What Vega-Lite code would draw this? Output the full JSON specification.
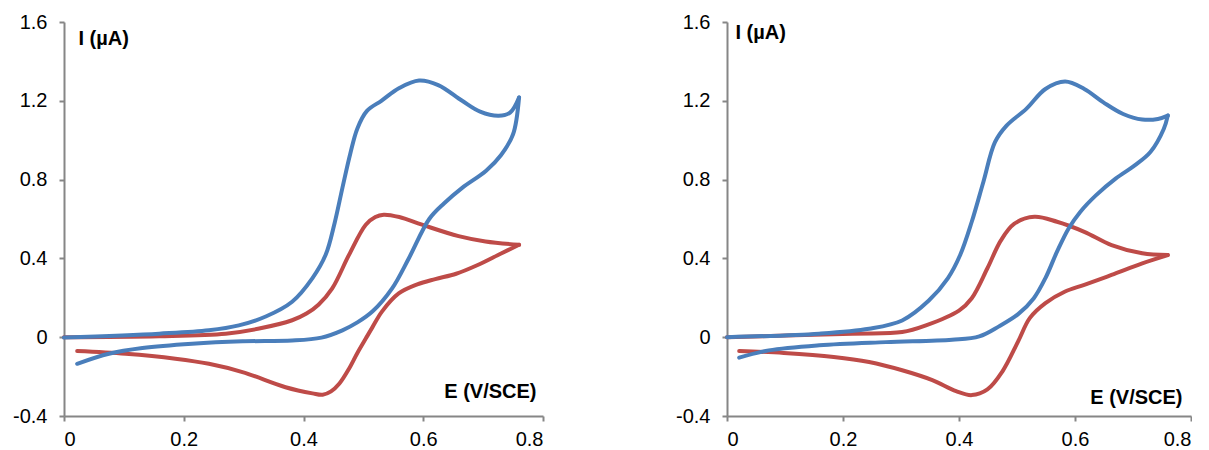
{
  "$schema": "https://vega.github.io/schema/vega-lite/v6.json",
  "padding": {"left": 12, "top": 12, "right": 0, "bottom": 0},
  "background": "white",
  "spacing": 131,
  "config": {
    "view": {"stroke": null},
    "axis": {
      "grid": false,
      "domainColor": "#868686",
      "domainWidth": 2,
      "tickColor": "#868686",
      "tickWidth": 2,
      "tickSize": 5,
      "labelFont": "Liberation Sans",
      "labelFontSize": 20,
      "labelColor": "#000000",
      "titleFont": "Liberation Sans",
      "titleFontSize": 20,
      "titleFontWeight": "bold",
      "titleColor": "#000000"
    },
    "axisX": {"labelPadding": 8},
    "axisY": {"labelPadding": 12}
  },
  "datasets": {
    "cv": [
      {"p": "L", "s": "red", "w": "f", "k": 0, "E": 0.0, "I": 0.0},
      {"p": "L", "s": "red", "w": "f", "k": 1, "E": 0.159, "I": 0.005},
      {"p": "L", "s": "red", "w": "f", "k": 2, "E": 0.27, "I": 0.018},
      {"p": "L", "s": "red", "w": "f", "k": 3, "E": 0.326, "I": 0.044},
      {"p": "L", "s": "red", "w": "f", "k": 4, "E": 0.381, "I": 0.086},
      {"p": "L", "s": "red", "w": "f", "k": 5, "E": 0.405, "I": 0.12},
      {"p": "L", "s": "red", "w": "f", "k": 6, "E": 0.425, "I": 0.165},
      {"p": "L", "s": "red", "w": "f", "k": 7, "E": 0.448, "I": 0.248},
      {"p": "L", "s": "red", "w": "f", "k": 8, "E": 0.476, "I": 0.418},
      {"p": "L", "s": "red", "w": "f", "k": 9, "E": 0.504, "I": 0.571},
      {"p": "L", "s": "red", "w": "f", "k": 10, "E": 0.52, "I": 0.61},
      {"p": "L", "s": "red", "w": "f", "k": 11, "E": 0.534, "I": 0.622},
      {"p": "L", "s": "red", "w": "f", "k": 12, "E": 0.56, "I": 0.61},
      {"p": "L", "s": "red", "w": "f", "k": 13, "E": 0.598, "I": 0.571},
      {"p": "L", "s": "red", "w": "f", "k": 14, "E": 0.659, "I": 0.513},
      {"p": "L", "s": "red", "w": "f", "k": 15, "E": 0.704, "I": 0.486},
      {"p": "L", "s": "red", "w": "f", "k": 16, "E": 0.76, "I": 0.469},
      {"p": "L", "s": "red", "w": "r", "k": 0, "E": 0.76, "I": 0.469},
      {"p": "L", "s": "red", "w": "r", "k": 1, "E": 0.73, "I": 0.425},
      {"p": "L", "s": "red", "w": "r", "k": 2, "E": 0.69, "I": 0.365},
      {"p": "L", "s": "red", "w": "r", "k": 3, "E": 0.655, "I": 0.322},
      {"p": "L", "s": "red", "w": "r", "k": 4, "E": 0.62, "I": 0.295},
      {"p": "L", "s": "red", "w": "r", "k": 5, "E": 0.59, "I": 0.268},
      {"p": "L", "s": "red", "w": "r", "k": 6, "E": 0.559, "I": 0.222},
      {"p": "L", "s": "red", "w": "r", "k": 7, "E": 0.531, "I": 0.13},
      {"p": "L", "s": "red", "w": "r", "k": 8, "E": 0.515, "I": 0.05},
      {"p": "L", "s": "red", "w": "r", "k": 9, "E": 0.504, "I": -0.007},
      {"p": "L", "s": "red", "w": "r", "k": 10, "E": 0.49, "I": -0.08},
      {"p": "L", "s": "red", "w": "r", "k": 11, "E": 0.476, "I": -0.16},
      {"p": "L", "s": "red", "w": "r", "k": 12, "E": 0.46, "I": -0.235},
      {"p": "L", "s": "red", "w": "r", "k": 13, "E": 0.446, "I": -0.275},
      {"p": "L", "s": "red", "w": "r", "k": 14, "E": 0.432, "I": -0.292},
      {"p": "L", "s": "red", "w": "r", "k": 15, "E": 0.415, "I": -0.285},
      {"p": "L", "s": "red", "w": "r", "k": 16, "E": 0.37, "I": -0.254},
      {"p": "L", "s": "red", "w": "r", "k": 17, "E": 0.298, "I": -0.177},
      {"p": "L", "s": "red", "w": "r", "k": 18, "E": 0.242, "I": -0.135},
      {"p": "L", "s": "red", "w": "r", "k": 19, "E": 0.186, "I": -0.109},
      {"p": "L", "s": "red", "w": "r", "k": 20, "E": 0.103, "I": -0.084},
      {"p": "L", "s": "red", "w": "r", "k": 21, "E": 0.022, "I": -0.07},

      {"p": "L", "s": "blue", "w": "f", "k": 0, "E": 0.0, "I": -0.002},
      {"p": "L", "s": "blue", "w": "f", "k": 1, "E": 0.159, "I": 0.018},
      {"p": "L", "s": "blue", "w": "f", "k": 2, "E": 0.242, "I": 0.035},
      {"p": "L", "s": "blue", "w": "f", "k": 3, "E": 0.292, "I": 0.06},
      {"p": "L", "s": "blue", "w": "f", "k": 4, "E": 0.337, "I": 0.105},
      {"p": "L", "s": "blue", "w": "f", "k": 5, "E": 0.381, "I": 0.18},
      {"p": "L", "s": "blue", "w": "f", "k": 6, "E": 0.415, "I": 0.3},
      {"p": "L", "s": "blue", "w": "f", "k": 7, "E": 0.437, "I": 0.418},
      {"p": "L", "s": "blue", "w": "f", "k": 8, "E": 0.452, "I": 0.58},
      {"p": "L", "s": "blue", "w": "f", "k": 9, "E": 0.465, "I": 0.758},
      {"p": "L", "s": "blue", "w": "f", "k": 10, "E": 0.478, "I": 0.93},
      {"p": "L", "s": "blue", "w": "f", "k": 11, "E": 0.49, "I": 1.06},
      {"p": "L", "s": "blue", "w": "f", "k": 12, "E": 0.506, "I": 1.149},
      {"p": "L", "s": "blue", "w": "f", "k": 13, "E": 0.53, "I": 1.2},
      {"p": "L", "s": "blue", "w": "f", "k": 14, "E": 0.56, "I": 1.265},
      {"p": "L", "s": "blue", "w": "f", "k": 15, "E": 0.593, "I": 1.303},
      {"p": "L", "s": "blue", "w": "f", "k": 16, "E": 0.625, "I": 1.28},
      {"p": "L", "s": "blue", "w": "f", "k": 17, "E": 0.665, "I": 1.2},
      {"p": "L", "s": "blue", "w": "f", "k": 18, "E": 0.695, "I": 1.145},
      {"p": "L", "s": "blue", "w": "f", "k": 19, "E": 0.726, "I": 1.124},
      {"p": "L", "s": "blue", "w": "f", "k": 20, "E": 0.745, "I": 1.14},
      {"p": "L", "s": "blue", "w": "f", "k": 21, "E": 0.76, "I": 1.217},
      {"p": "L", "s": "blue", "w": "r", "k": 0, "E": 0.76, "I": 1.217},
      {"p": "L", "s": "blue", "w": "r", "k": 1, "E": 0.75, "I": 1.03},
      {"p": "L", "s": "blue", "w": "r", "k": 2, "E": 0.73, "I": 0.925},
      {"p": "L", "s": "blue", "w": "r", "k": 3, "E": 0.705, "I": 0.845},
      {"p": "L", "s": "blue", "w": "r", "k": 4, "E": 0.665, "I": 0.758},
      {"p": "L", "s": "blue", "w": "r", "k": 5, "E": 0.635, "I": 0.68},
      {"p": "L", "s": "blue", "w": "r", "k": 6, "E": 0.61, "I": 0.6},
      {"p": "L", "s": "blue", "w": "r", "k": 7, "E": 0.576, "I": 0.401},
      {"p": "L", "s": "blue", "w": "r", "k": 8, "E": 0.548, "I": 0.248},
      {"p": "L", "s": "blue", "w": "r", "k": 9, "E": 0.515, "I": 0.13},
      {"p": "L", "s": "blue", "w": "r", "k": 10, "E": 0.49, "I": 0.075},
      {"p": "L", "s": "blue", "w": "r", "k": 11, "E": 0.465, "I": 0.035},
      {"p": "L", "s": "blue", "w": "r", "k": 12, "E": 0.43, "I": -0.002},
      {"p": "L", "s": "blue", "w": "r", "k": 13, "E": 0.381, "I": -0.017},
      {"p": "L", "s": "blue", "w": "r", "k": 14, "E": 0.298, "I": -0.021},
      {"p": "L", "s": "blue", "w": "r", "k": 15, "E": 0.214, "I": -0.033},
      {"p": "L", "s": "blue", "w": "r", "k": 16, "E": 0.131, "I": -0.055},
      {"p": "L", "s": "blue", "w": "r", "k": 17, "E": 0.075, "I": -0.084},
      {"p": "L", "s": "blue", "w": "r", "k": 18, "E": 0.022, "I": -0.135},

      {"p": "R", "s": "red", "w": "f", "k": 0, "E": 0.0, "I": 0.0},
      {"p": "R", "s": "red", "w": "f", "k": 1, "E": 0.216, "I": 0.018},
      {"p": "R", "s": "red", "w": "f", "k": 2, "E": 0.302, "I": 0.026},
      {"p": "R", "s": "red", "w": "f", "k": 3, "E": 0.343, "I": 0.06},
      {"p": "R", "s": "red", "w": "f", "k": 4, "E": 0.4, "I": 0.135},
      {"p": "R", "s": "red", "w": "f", "k": 5, "E": 0.422, "I": 0.198},
      {"p": "R", "s": "red", "w": "f", "k": 6, "E": 0.449, "I": 0.35},
      {"p": "R", "s": "red", "w": "f", "k": 7, "E": 0.472, "I": 0.49},
      {"p": "R", "s": "red", "w": "f", "k": 8, "E": 0.495, "I": 0.575},
      {"p": "R", "s": "red", "w": "f", "k": 9, "E": 0.53, "I": 0.611},
      {"p": "R", "s": "red", "w": "f", "k": 10, "E": 0.569, "I": 0.586},
      {"p": "R", "s": "red", "w": "f", "k": 11, "E": 0.616, "I": 0.535},
      {"p": "R", "s": "red", "w": "f", "k": 12, "E": 0.663, "I": 0.468},
      {"p": "R", "s": "red", "w": "f", "k": 13, "E": 0.716, "I": 0.426},
      {"p": "R", "s": "red", "w": "f", "k": 14, "E": 0.76, "I": 0.417},
      {"p": "R", "s": "red", "w": "r", "k": 0, "E": 0.76, "I": 0.417},
      {"p": "R", "s": "red", "w": "r", "k": 1, "E": 0.716, "I": 0.375},
      {"p": "R", "s": "red", "w": "r", "k": 2, "E": 0.663, "I": 0.316},
      {"p": "R", "s": "red", "w": "r", "k": 3, "E": 0.616, "I": 0.266},
      {"p": "R", "s": "red", "w": "r", "k": 4, "E": 0.583, "I": 0.232},
      {"p": "R", "s": "red", "w": "r", "k": 5, "E": 0.549, "I": 0.173},
      {"p": "R", "s": "red", "w": "r", "k": 6, "E": 0.522, "I": 0.097},
      {"p": "R", "s": "red", "w": "r", "k": 7, "E": 0.502, "I": -0.021},
      {"p": "R", "s": "red", "w": "r", "k": 8, "E": 0.475, "I": -0.173},
      {"p": "R", "s": "red", "w": "r", "k": 9, "E": 0.449, "I": -0.265},
      {"p": "R", "s": "red", "w": "r", "k": 10, "E": 0.422, "I": -0.294},
      {"p": "R", "s": "red", "w": "r", "k": 11, "E": 0.395, "I": -0.274},
      {"p": "R", "s": "red", "w": "r", "k": 12, "E": 0.354, "I": -0.218},
      {"p": "R", "s": "red", "w": "r", "k": 13, "E": 0.302, "I": -0.168},
      {"p": "R", "s": "red", "w": "r", "k": 14, "E": 0.245, "I": -0.126},
      {"p": "R", "s": "red", "w": "r", "k": 15, "E": 0.184, "I": -0.1},
      {"p": "R", "s": "red", "w": "r", "k": 16, "E": 0.098, "I": -0.08},
      {"p": "R", "s": "red", "w": "r", "k": 17, "E": 0.021, "I": -0.07},

      {"p": "R", "s": "blue", "w": "f", "k": 0, "E": 0.0, "I": 0.0},
      {"p": "R", "s": "blue", "w": "f", "k": 1, "E": 0.159, "I": 0.018},
      {"p": "R", "s": "blue", "w": "f", "k": 2, "E": 0.245, "I": 0.043},
      {"p": "R", "s": "blue", "w": "f", "k": 3, "E": 0.302, "I": 0.085},
      {"p": "R", "s": "blue", "w": "f", "k": 4, "E": 0.348, "I": 0.186},
      {"p": "R", "s": "blue", "w": "f", "k": 5, "E": 0.381, "I": 0.3},
      {"p": "R", "s": "blue", "w": "f", "k": 6, "E": 0.402, "I": 0.417},
      {"p": "R", "s": "blue", "w": "f", "k": 7, "E": 0.422, "I": 0.586},
      {"p": "R", "s": "blue", "w": "f", "k": 8, "E": 0.442, "I": 0.788},
      {"p": "R", "s": "blue", "w": "f", "k": 9, "E": 0.462, "I": 0.99},
      {"p": "R", "s": "blue", "w": "f", "k": 10, "E": 0.482, "I": 1.074},
      {"p": "R", "s": "blue", "w": "f", "k": 11, "E": 0.516, "I": 1.159},
      {"p": "R", "s": "blue", "w": "f", "k": 12, "E": 0.549, "I": 1.26},
      {"p": "R", "s": "blue", "w": "f", "k": 13, "E": 0.583, "I": 1.298},
      {"p": "R", "s": "blue", "w": "f", "k": 14, "E": 0.616, "I": 1.26},
      {"p": "R", "s": "blue", "w": "f", "k": 15, "E": 0.649, "I": 1.192},
      {"p": "R", "s": "blue", "w": "f", "k": 16, "E": 0.683, "I": 1.133},
      {"p": "R", "s": "blue", "w": "f", "k": 17, "E": 0.716, "I": 1.105},
      {"p": "R", "s": "blue", "w": "f", "k": 18, "E": 0.743, "I": 1.108},
      {"p": "R", "s": "blue", "w": "f", "k": 19, "E": 0.76, "I": 1.125},
      {"p": "R", "s": "blue", "w": "r", "k": 0, "E": 0.76, "I": 1.125},
      {"p": "R", "s": "blue", "w": "r", "k": 1, "E": 0.753, "I": 1.057},
      {"p": "R", "s": "blue", "w": "r", "k": 2, "E": 0.73, "I": 0.94},
      {"p": "R", "s": "blue", "w": "r", "k": 3, "E": 0.703, "I": 0.872},
      {"p": "R", "s": "blue", "w": "r", "k": 4, "E": 0.67, "I": 0.805},
      {"p": "R", "s": "blue", "w": "r", "k": 5, "E": 0.636, "I": 0.72},
      {"p": "R", "s": "blue", "w": "r", "k": 6, "E": 0.609, "I": 0.636},
      {"p": "R", "s": "blue", "w": "r", "k": 7, "E": 0.589, "I": 0.552},
      {"p": "R", "s": "blue", "w": "r", "k": 8, "E": 0.569, "I": 0.434},
      {"p": "R", "s": "blue", "w": "r", "k": 9, "E": 0.549, "I": 0.3},
      {"p": "R", "s": "blue", "w": "r", "k": 10, "E": 0.529, "I": 0.198},
      {"p": "R", "s": "blue", "w": "r", "k": 11, "E": 0.502, "I": 0.117},
      {"p": "R", "s": "blue", "w": "r", "k": 12, "E": 0.469, "I": 0.055},
      {"p": "R", "s": "blue", "w": "r", "k": 13, "E": 0.435, "I": 0.004},
      {"p": "R", "s": "blue", "w": "r", "k": 14, "E": 0.388, "I": -0.013},
      {"p": "R", "s": "blue", "w": "r", "k": 15, "E": 0.274, "I": -0.025},
      {"p": "R", "s": "blue", "w": "r", "k": 16, "E": 0.159, "I": -0.041},
      {"p": "R", "s": "blue", "w": "r", "k": 17, "E": 0.072, "I": -0.067},
      {"p": "R", "s": "blue", "w": "r", "k": 18, "E": 0.021, "I": -0.104}
    ]
  },
  "hconcat": [
    {
      "width": 479,
      "height": 394,
      "data": {"name": "cv"},
      "transform": [{"filter": "datum.p === 'L'"}],
      "mark": {"type": "line", "interpolate": "catmull-rom", "strokeWidth": 4, "strokeCap": "round", "strokeJoin": "round"},
      "encoding": {
        "x": {"field": "E", "type": "quantitative", "scale": {"domain": [0, 0.8], "nice": false, "zero": false},
          "axis": {"values": [0, 0.2, 0.4, 0.6, 0.8], "labelExpr": "datum.value == 0 ? '0' : (datum.value < 0 ? '-' : '') + format(abs(datum.value), '.1f')",
            "title": "E (V/SCE)", "titleX": 472, "titleY": -19, "titleAlign": "right", "titleBaseline": "alphabetic"}},
        "y": {"field": "I", "type": "quantitative", "scale": {"domain": [-0.4, 1.6], "nice": false, "zero": false},
          "axis": {"values": [-0.4, 0, 0.4, 0.8, 1.2, 1.6], "labelExpr": "datum.value == 0 ? '0' : (datum.value < 0 ? '-' : '') + format(abs(datum.value), '.1f')",
            "title": "I (µA)", "titleAngle": 0, "titleX": 14, "titleY": 22, "titleAlign": "left", "titleBaseline": "alphabetic"}},
        "color": {"field": "s", "type": "nominal", "scale": {"domain": ["red", "blue"], "range": ["#BE4B48", "#4A7EBB"]}, "legend": null},
        "detail": {"field": "w", "type": "nominal"},
        "order": {"field": "k", "type": "quantitative"}
      }
    },
    {
      "width": 464,
      "height": 394,
      "data": {"name": "cv"},
      "transform": [{"filter": "datum.p === 'R'"}],
      "mark": {"type": "line", "interpolate": "catmull-rom", "strokeWidth": 4, "strokeCap": "round", "strokeJoin": "round"},
      "encoding": {
        "x": {"field": "E", "type": "quantitative", "scale": {"domain": [0, 0.8], "nice": false, "zero": false},
          "axis": {"values": [0, 0.2, 0.4, 0.6, 0.8], "labelExpr": "datum.value == 0 ? '0' : (datum.value < 0 ? '-' : '') + format(abs(datum.value), '.1f')",
            "title": "E (V/SCE)", "titleX": 455, "titleY": -13, "titleAlign": "right", "titleBaseline": "alphabetic"}},
        "y": {"field": "I", "type": "quantitative", "scale": {"domain": [-0.4, 1.6], "nice": false, "zero": false},
          "axis": {"values": [-0.4, 0, 0.4, 0.8, 1.2, 1.6], "labelExpr": "datum.value == 0 ? '0' : (datum.value < 0 ? '-' : '') + format(abs(datum.value), '.1f')",
            "title": "I (µA)", "titleAngle": 0, "titleX": 8, "titleY": 16, "titleAlign": "left", "titleBaseline": "alphabetic"}},
        "color": {"field": "s", "type": "nominal", "scale": {"domain": ["red", "blue"], "range": ["#BE4B48", "#4A7EBB"]}, "legend": null},
        "detail": {"field": "w", "type": "nominal"},
        "order": {"field": "k", "type": "quantitative"}
      }
    }
  ],
  "resolve": {"scale": {"color": "shared"}}
}
